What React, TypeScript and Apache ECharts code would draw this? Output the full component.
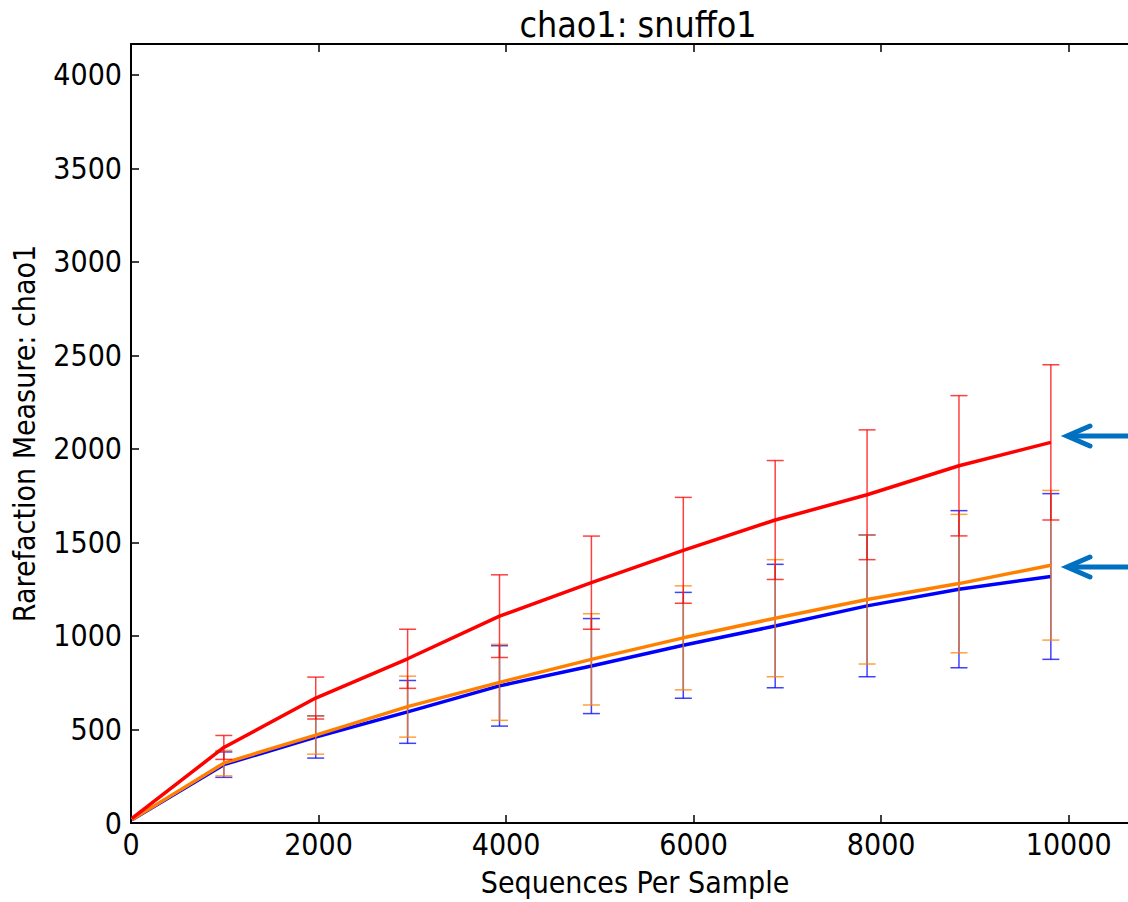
import React, { useEffect, useRef } from "react";
import * as echarts from "echarts";

const seqPerSample = [10, 990, 1970, 2950, 3930, 4910, 5890, 6870, 7850, 8830, 9810];
const redMean = [25, 404, 668, 878, 1106, 1285, 1458, 1620, 1755, 1910, 2035];
const redErr = [0, 64, 112, 158, 221, 249, 283, 318, 347, 375, 415];
const blueMean = [18, 312, 460, 594, 733, 839, 950, 1053, 1161, 1250, 1318];
const blueErr = [0, 68, 113, 168, 215, 254, 283, 330, 379, 420, 443];
const orangeMean = [18, 320, 470, 622, 752, 875, 990, 1095, 1195, 1280, 1378];
const orangeErr = [0, 68, 102, 163, 203, 244, 278, 313, 345, 370, 400];

const titleText = "chao1: snuffo1";
const xName = "Sequences Per Sample";
const yName = "Rarefaction Measure: chao1";

const FONT = "DejaVu Sans Condensed";

function errSeries(name: string, mean: number[], err: number[], color: string, z: number) {
  const data = seqPerSample
    .map((x, i) => [x, mean[i] - err[i], mean[i] + err[i], err[i]])
    .filter((d) => d[3] > 0);
  return {
    type: "custom",
    name: name + " err",
    z,
    data,
    encode: { x: 0, y: [1, 2] },
    renderItem: (params: any, api: any) => {
      const x = api.value(0);
      const lo = api.coord([x, api.value(1)]);
      const hi = api.coord([x, api.value(2)]);
      const cw = 8.5;
      const style = { stroke: color, lineWidth: 1.5, opacity: 0.75 };
      return {
        type: "group",
        children: [
          { type: "line", shape: { x1: lo[0], y1: lo[1], x2: hi[0], y2: hi[1] }, style },
          { type: "line", shape: { x1: hi[0] - cw, y1: hi[1], x2: hi[0] + cw, y2: hi[1] }, style },
          { type: "line", shape: { x1: lo[0] - cw, y1: lo[1], x2: lo[0] + cw, y2: lo[1] }, style },
        ],
      };
    },
  };
}

function lineSeries(name: string, mean: number[], color: string, z: number) {
  return {
    type: "line",
    name,
    z,
    data: seqPerSample.map((x, i) => [x, mean[i]]),
    showSymbol: false,
    lineStyle: { color, width: 3.5 },
    itemStyle: { color },
  };
}

export default function App() {
  const ref = useRef<HTMLDivElement>(null);
  useEffect(() => {
    if (!ref.current) return;
    const chart = echarts.init(ref.current, null, { renderer: "svg" });
    const axisLine = { show: true, onZero: false, lineStyle: { color: "#000", width: 2 } };
    const tick = { show: true, inside: true, length: 8, lineStyle: { color: "#000", width: 1.5 } };
    const arrowColor = "#0070c0";
    const arrow = (tipX: number, tipY: number) => ({
      type: "group",
      children: [
        {
          type: "line",
          shape: { x1: tipX + 1, y1: tipY, x2: 1160, y2: tipY },
          style: { stroke: arrowColor, lineWidth: 5 },
        },
        {
          type: "polyline",
          shape: { points: [[tipX + 23, tipY - 10], [tipX, tipY], [tipX + 23, tipY + 10]] },
          style: { stroke: arrowColor, lineWidth: 5, fill: null, lineCap: "round", lineJoin: "miter" },
        },
      ],
    });
    const fmt = (v: number) => String(v);
    chart.setOption({
      animation: false,
      backgroundColor: "#fff",
      title: {
        text: titleText,
        left: 633,
        top: 1,
        textAlign: "center",
        textStyle: { fontFamily: FONT, fontSize: 35.5, fontWeight: "normal", color: "#000" },
      },
      grid: { left: 131, top: 44, width: 1008, height: 781 },
      xAxis: [
        {
          type: "value",
          min: 0,
          max: 10750,
          interval: 2000,
          name: xName,
          nameLocation: "middle",
          nameGap: 44,
          nameTextStyle: { fontFamily: FONT, fontSize: 30, color: "#000" },
          axisLine,
          axisTick: tick,
          axisLabel: { fontFamily: FONT, fontSize: 30, color: "#000", margin: 6, showMaxLabel: false, formatter: fmt },
          splitLine: { show: false },
        },
        {
          type: "value",
          position: "top",
          min: 0,
          max: 10750,
          interval: 2000,
          axisLine,
          axisTick: tick,
          axisLabel: { show: false },
          splitLine: { show: false },
        },
      ],
      yAxis: [
        {
          type: "value",
          min: 0,
          max: 4165,
          interval: 500,
          name: yName,
          nameLocation: "middle",
          nameGap: 92,
          nameTextStyle: { fontFamily: FONT, fontSize: 30, color: "#000" },
          axisLine,
          axisTick: tick,
          axisLabel: { fontFamily: FONT, fontSize: 30, color: "#000", margin: 9, showMaxLabel: false, formatter: fmt },
          splitLine: { show: false },
        },
        {
          type: "value",
          position: "right",
          min: 0,
          max: 4165,
          interval: 500,
          axisLine,
          axisTick: tick,
          axisLabel: { show: false },
          splitLine: { show: false },
        },
      ],
      series: [
        errSeries("blue", blueMean, blueErr, "#0000ff", 2),
        lineSeries("blue", blueMean, "#0000ff", 3),
        errSeries("orange", orangeMean, orangeErr, "#ff8000", 4),
        lineSeries("orange", orangeMean, "#ff8000", 5),
        errSeries("red", redMean, redErr, "#ff0000", 6),
        lineSeries("red", redMean, "#ff0000", 7),
      ],
      graphic: [arrow(1067, 436), arrow(1067, 567)],
    });
    return () => chart.dispose();
  }, []);
  return (
    <div style={{ position: "absolute", left: 0, top: 0, width: 1128, height: 902, overflow: "hidden" }}>
      <div ref={ref} style={{ width: 1160, height: 902 }} />
    </div>
  );
}
